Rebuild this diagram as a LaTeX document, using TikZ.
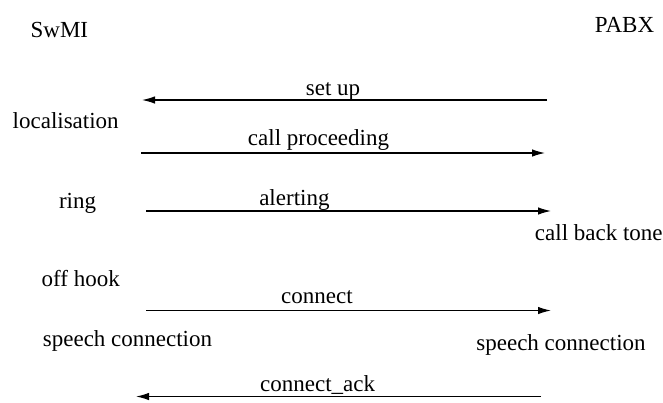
\documentclass[tikz,border=0pt]{standalone}
\usepackage{fontspec}
\setmainfont{Liberation Serif}
\usetikzlibrary{arrows.meta}
\begin{document}
\begin{tikzpicture}[x=1pt,y=-1pt,
  lbl/.style={inner sep=0pt,anchor=base,font=\fontsize{23}{27}\selectfont},
  msg/.style={line width=1.2pt,-{Latex[length=13pt,width=7.5pt]}}]
\useasboundingbox (0,0) rectangle (663,402);
% entity labels
\node[lbl] (swmi) at (59.4,37) {SwMI};
\node[lbl] (pabx) at (624.5,32) {PABX};
% annotations
\node[lbl] (loc) at (65.7,128) {localisation};
\node[lbl] (ring) at (77.6,208) {ring};
\node[lbl] (cbt) at (598.8,240) {call back tone};
\node[lbl] (offhook) at (80.7,286) {off hook};
\node[lbl] (scl) at (127.5,346) {speech connection};
\node[lbl] (scr) at (561,350) {speech connection};
% message labels
\node[lbl] (lsetup) at (333,95) {set up};
\node[lbl] (lcallproc) at (318.5,145.5) {call proceeding};
\node[lbl] (lalert) at (294.4,205) {alerting};
\node[lbl] (lconnect) at (317,303.5) {connect};
\node[lbl] (lack) at (317.6,391.5) {connect\_ack};
% arrow end points
\coordinate (s1) at (547,100);   \coordinate (e1) at (142,100);
\coordinate (s2) at (141,153);   \coordinate (e2) at (545,153);
\coordinate (s3) at (146,211);   \coordinate (e3) at (551,211);
\coordinate (s4) at (146,310.5); \coordinate (e4) at (551,310.5);
\coordinate (s5) at (541,396.5); \coordinate (e5) at (136,396.5);
\draw[msg] (s1) -- (e1);
\draw[msg] (s2) -- (e2);
\draw[msg] (s3) -- (e3);
\draw[msg] (s4) -- (e4);
\draw[msg] (s5) -- (e5);
\end{tikzpicture}
\end{document}
